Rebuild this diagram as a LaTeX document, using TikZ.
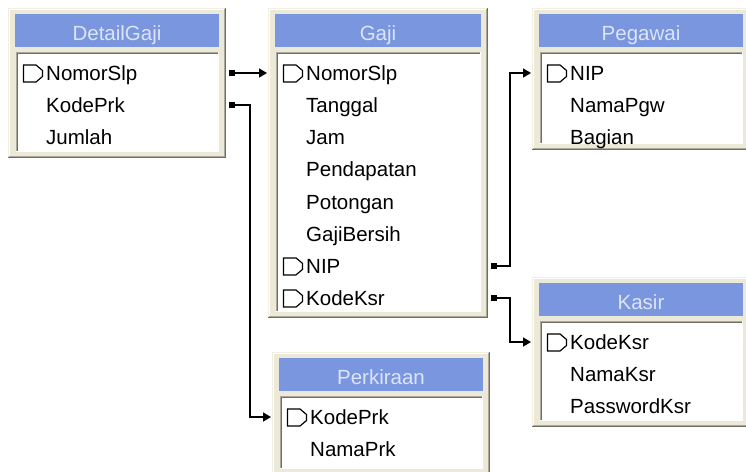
\documentclass[tikz,border=0pt]{standalone}
\usepackage{fontspec}
\setmainfont{Liberation Sans}
\usetikzlibrary{arrows.meta}
\definecolor{framebg}{HTML}{ECE9D8}
\definecolor{titlebg}{HTML}{7A96DF}
\definecolor{titlefg}{HTML}{DCE4F7}
\definecolor{edgedark}{HTML}{716F64}
\definecolor{edgemid}{HTML}{ACA899}
\definecolor{edgelight}{HTML}{F1EFE2}
\tikzset{
  tframe/.style={fill=framebg, draw=none, anchor=north west, inner sep=0pt, outer sep=0pt},
  ttitle/.style={fill=titlebg, draw=none, anchor=north west, inner sep=0pt, outer sep=0pt},
  tlist/.style={fill=white, draw=none, anchor=north west, inner sep=0pt, outer sep=0pt},
  titletext/.style={text=titlefg, font=\fontsize{20.5}{24}\selectfont, inner sep=0pt, anchor=base},
  rowtext/.style={text=black, font=\fontsize{20.5}{24}\selectfont, inner sep=0pt, anchor=base west},
  keyicon/.style={draw=black, line width=1.2pt, line join=miter},
  bevel/.style={line width=1pt},
  fk/.style={draw=black, line width=1.6pt, {Square[length=6pt,width=5.5pt]}-{Triangle[length=8pt,width=9pt]}},
}
\newcommand\erTable[6]{%
  \pgfmathsetmacro\erW{#4-(#2)}%
  \pgfmathsetmacro\erH{#5-(#3)}%
  \pgfmathsetmacro\erTW{#4-(#2)-14}%
  \pgfmathsetmacro\erLW{#4-(#2)-15}%
  \pgfmathsetmacro\erLH{#5-(#3)-50}%
  \pgfmathsetmacro\erCX{(#2+#4)/2}%
  \node[tframe, minimum width=\erW pt, minimum height=\erH pt] (#1) at (#2,#3) {};
  \draw[bevel, edgelight] (#2+0.5,#5-1) -- (#2+0.5,#3+0.5) -- (#4-1,#3+0.5);
  \draw[bevel, white] (#2+1.5,#5-2) -- (#2+1.5,#3+1.5) -- (#4-2,#3+1.5);
  \draw[bevel, edgedark] (#2,#5-0.5) -- (#4-0.5,#5-0.5) -- (#4-0.5,#3);
  \draw[bevel, edgemid] (#2+1,#5-1.5) -- (#4-1.5,#5-1.5) -- (#4-1.5,#3+1);
  \node[ttitle, minimum width=\erTW pt, minimum height=33pt] (#1-bar) at (#2+7,#3+6) {};
  \node[titletext] (#1-title) at (\erCX,#3+32.5) {#6};
  \node[tlist, minimum width=\erLW pt, minimum height=\erLH pt] (#1-list) at (#2+8,#3+44) {};
  \draw[bevel, edgemid] (#2+8.5,#5-6) -- (#2+8.5,#3+44.5) -- (#4-7,#3+44.5);
  \draw[bevel, edgedark] (#2+9.5,#5-7) -- (#2+9.5,#3+45.5) -- (#4-8,#3+45.5);
  \draw[bevel, white] (#2+8,#5-6.5) -- (#4-7.5,#5-6.5) -- (#4-7.5,#3+44);
}
\newcommand\erRows[4]{%
  \foreach \k/\iskey/\txt in {#4} {
    \pgfmathsetmacro\ry{#3+65+(\k-1)*32.15}
    \coordinate (#1-c\k) at (#2,\ry);
    \node[rowtext] (#1-r\k) at (#2+38,\ry+7.5) {\txt};
    \ifnum\iskey=1
      \draw[keyicon] (#2+15.5,\ry-8) -- ++(12.5,0) -- ++(6.5,5.5) -- ++(0,6) -- ++(-6.5,5.5) -- ++(-12.5,0) -- cycle;
    \fi
  }
}
\begin{document}
\begin{tikzpicture}[x=1pt,y=-1pt]
\useasboundingbox (0,0) rectangle (746,471);
\clip (0,0) rectangle (746,471);
\fill[white] (0,0) rectangle (746,471);

\erTable{dg}{8}{8}{226}{158}{DetailGaji}
\erRows{dg}{8}{8}{1/1/NomorSlp, 2/0/KodePrk, 3/0/Jumlah}

\erTable{ga}{268}{8}{488}{318}{Gaji}
\erRows{ga}{268}{8}{1/1/NomorSlp, 2/0/Tanggal, 3/0/Jam, 4/0/Pendapatan, 5/0/Potongan, 6/0/GajiBersih, 7/1/NIP, 8/1/KodeKsr}

\erTable{pg}{532}{8}{750}{150}{Pegawai}
\erRows{pg}{532}{8}{1/1/NIP, 2/0/NamaPgw, 3/0/Bagian}

\erTable{ks}{532}{277}{750}{427}{Kasir}
\erRows{ks}{532}{277}{1/1/KodeKsr, 2/0/NamaKsr, 3/0/PasswordKsr}

\erTable{pk}{272}{352}{490}{475}{Perkiraan}
\erRows{pk}{272}{352}{1/1/KodePrk, 2/0/NamaPrk}

\draw[fk] ([xshift=3pt]dg.east |- dg-c1) -- ([xshift=-1pt]ga.west |- ga-c1);
\draw[fk] ([xshift=3pt]dg.east |- dg-c2) -- ++(21,0) |- ([xshift=-1pt]pk.west |- pk-c1);
\draw[fk] ([xshift=3pt]ga.east |- ga-c7) -- ++(19,0) |- ([xshift=-1pt]pg.west |- pg-c1);
\draw[fk] ([xshift=3pt]ga.east |- ga-c8) -- ++(19,0) |- ([xshift=-1pt]ks.west |- ks-c1);
\end{tikzpicture}
\end{document}
